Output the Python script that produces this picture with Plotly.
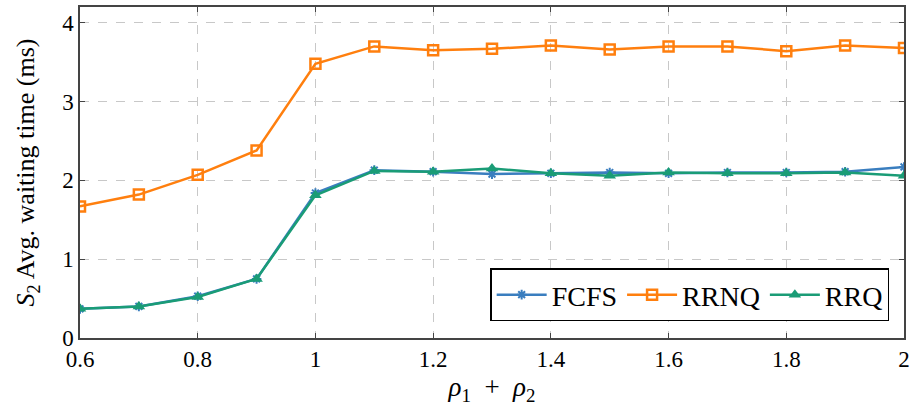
import plotly.graph_objects as go

x = [0.6, 0.7, 0.8, 0.9, 1.0, 1.1, 1.2, 1.3, 1.4, 1.5, 1.6, 1.7, 1.8, 1.9, 2.0]
fcfs = [0.37, 0.40, 0.53, 0.75, 1.84, 2.13, 2.11, 2.08, 2.09, 2.10, 2.09, 2.10, 2.10, 2.11, 2.17]
rrnq = [1.67, 1.82, 2.07, 2.38, 3.48, 3.70, 3.65, 3.67, 3.71, 3.66, 3.70, 3.70, 3.64, 3.71, 3.68]
rrq = [0.37, 0.40, 0.52, 0.75, 1.81, 2.12, 2.11, 2.15, 2.09, 2.06, 2.10, 2.09, 2.09, 2.10, 2.06]

xticks = [0.6, 0.8, 1.0, 1.2, 1.4, 1.6, 1.8, 2.0]
xticklabels = ["0.6", "0.8", "1", "1.2", "1.4", "1.6", "1.8", "2"]
yticks = [0, 1, 2, 3, 4]

FONT = "Liberation Serif"

fig = go.Figure()
fig.add_trace(go.Scatter(x=x, y=fcfs, name="FCFS", mode="lines+markers",
                         line=dict(color="#3a7ebf", width=2.5),
                         marker=dict(symbol="asterisk-open", size=8,
                                     line=dict(color="#3a7ebf", width=2))))
fig.add_trace(go.Scatter(x=x, y=rrnq, name="RRNQ", mode="lines+markers",
                         line=dict(color="#ff7f0e", width=2.5),
                         marker=dict(symbol="square-open", size=10,
                                     line=dict(color="#ff7f0e", width=2.5))))
fig.add_trace(go.Scatter(x=x, y=rrq, name="RRQ", mode="lines+markers",
                         line=dict(color="#1a9c76", width=2.5),
                         marker=dict(symbol="triangle-up", size=11, color="#1a9c76")))

axis_common = dict(showline=True, linecolor="#444", linewidth=1.5, mirror="ticks",
                   ticks="inside", ticklen=5, tickcolor="#444",
                   showgrid=True, gridcolor="#c8c8c8", griddash="dash", gridwidth=1,
                   zeroline=False, tickfont=dict(family=FONT, size=23, color="black"))

fig.update_xaxes(range=[0.6, 2.0], tickvals=xticks, ticktext=xticklabels,
                 title=dict(text="<i>ρ</i><sub>1</sub>  +  <i>ρ</i><sub>2</sub>",
                            font=dict(family=FONT, size=27, color="black"), standoff=2),
                 **axis_common)
fig.update_yaxes(range=[0, 4.2], tickvals=yticks,
                 title=dict(text="<i>S</i><sub>2</sub> Avg. waiting time (ms)",
                            font=dict(family=FONT, size=26, color="black"), standoff=20),
                 **axis_common)

fig.update_layout(
    width=915, height=415,
    margin=dict(l=80, r=9, t=5, b=77),
    plot_bgcolor="white", paper_bgcolor="white",
    legend=dict(orientation="h", x=0.982, y=0.05, xanchor="right", yanchor="bottom",
                bordercolor="black", borderwidth=1.5, bgcolor="white",
                font=dict(family=FONT, size=28, color="black"),
                itemwidth=50, tracegroupgap=0),
    showlegend=True,
)

fig.write_html("out.html")
